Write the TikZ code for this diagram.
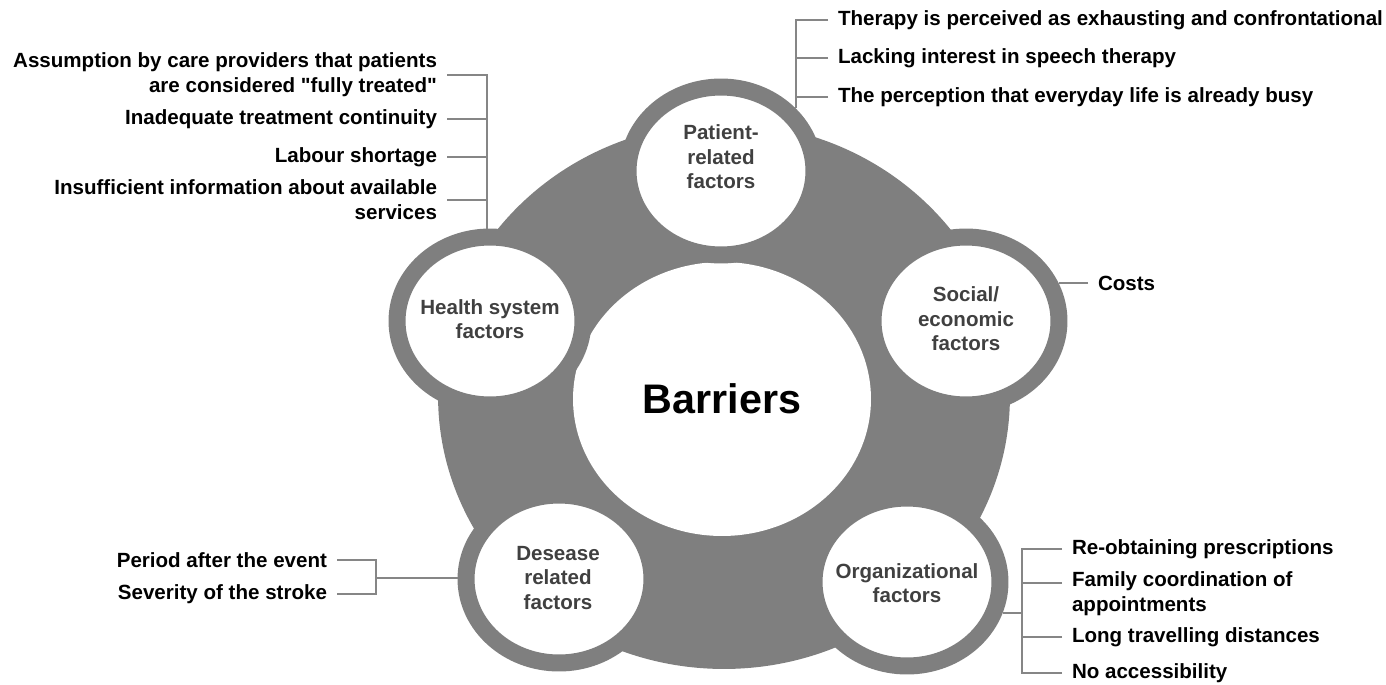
\documentclass[tikz,border=0pt]{standalone}
\usepackage{fontspec}
\setmainfont{Liberation Sans}[Ligatures=TeXOff]
\usepackage{tikz}
\usetikzlibrary{shapes,positioning,calc}

\definecolor{ringgray}{HTML}{7F7F7F}
\definecolor{linkgray}{HTML}{868686}
\definecolor{labelgray}{HTML}{404040}

\tikzset{
  wheelbody/.style={ellipse, fill=ringgray, minimum width=11.44cm, minimum height=10.92cm, inner sep=0pt},
  core/.style={ellipse, fill=white, minimum width=5.96cm, minimum height=5.48cm, inner sep=0pt,
    font=\fontsize{23.5}{28}\selectfont\bfseries},
  factor/.style={ellipse, fill=white, draw=ringgray, line width=0.34cm,
    minimum width=3.72cm, minimum height=3.36cm, inner sep=0pt},
  factortext/.style={align=center, text=labelgray, font=\fontsize{11.7}{14}\selectfont\bfseries},
  item/.style={font=\fontsize{11.7}{14.2}\selectfont\bfseries, inner xsep=5.5pt, inner ysep=1pt},
  link/.style={draw=linkgray, line width=1.1pt},
}

\begin{document}
\begin{tikzpicture}[x=0.02cm, y=-0.02cm]
\useasboundingbox (0,0) rectangle (1386,684);

% Wheel and hub
\node[wheelbody] (wheel) at (724,396) {};
\node[core] (barriers) at (722,399) {Barriers};

% Factor circles
\node[factor] (patient) at (721,171) {};
\node[factor] (health) at (490,321) {};
\node[factor] (social) at (966,321) {};
\node[factor] (disease) at (559,579) {};
\node[factor] (orga) at (907,582) {};

\node[factortext] (patienttxt) at (721,157) {Patient-\\related\\factors};
\node[factortext] (healthtxt) at (490,319) {Health system\\factors};
\node[factortext] (socialtxt) at (966,319) {Social/\\economic\\factors};
\node[factortext] (diseasetxt) at (558,578) {Desease\\related\\factors};
\node[factortext] (orgatxt) at (907,583) {Organizational\\factors};

% Patient-related
\node[item, anchor=west] (p1) at (828,20) {Therapy is perceived as exhausting and confrontational};
\node[item, anchor=west] (p2) at (828,58) {Lacking interest in speech therapy};
\node[item, anchor=west] (p3) at (828,97) {The perception that everyday life is already busy};
\coordinate (pbus) at (patient.40);
\foreach \n in {p1,p2,p3}
  \draw[link] (\n.west) -| (pbus);

% Health system
\node[item, anchor=east, align=right] (h1) at (447,75) {Assumption by care providers that patients\\are considered "fully treated"};
\node[item, anchor=east] (h2) at (447,119) {Inadequate treatment continuity};
\node[item, anchor=east] (h3) at (447,157) {Labour shortage};
\node[item, anchor=east, align=right] (h4) at (447,200) {Insufficient information about available\\services};
\coordinate (hbus) at (health.92);
\foreach \n in {h1,h2,h3,h4}
  \draw[link] (\n.east) -| (hbus);

% Social/economic
\node[item, anchor=west] (s1) at (1088,283) {Costs};
\draw[link] (s1.west) -- (s1.west -| social.22);

% Disease
\node[item, anchor=east] (d1) at (337,560) {Period after the event};
\node[item, anchor=east] (d2) at (337,594) {Severity of the stroke};
\coordinate (dbus) at (376,578);
\draw[link] (d1.east) -| (dbus);
\draw[link] (d2.east) -| (dbus);
\draw[link] (dbus) -- (dbus -| disease.west);

% Organizational
\node[item, anchor=west] (o1) at (1062,549) {Re-obtaining prescriptions};
\node[item, anchor=west, align=left] (o2) at (1062,594) {Family coordination of\\appointments};
\node[item, anchor=west] (o3) at (1062,637) {Long travelling distances};
\node[item, anchor=west] (o4) at (1062,673) {No accessibility};
\coordinate (obus) at (1022,613);
\draw[link] (obus) -- (obus -| orga.-18);
\foreach \n in {o1,o3,o4}
  \draw[link] (\n.west) -| (obus);
\draw[link] ([yshift=6.3pt]o2.west) -| (obus);
\end{tikzpicture}
\end{document}
